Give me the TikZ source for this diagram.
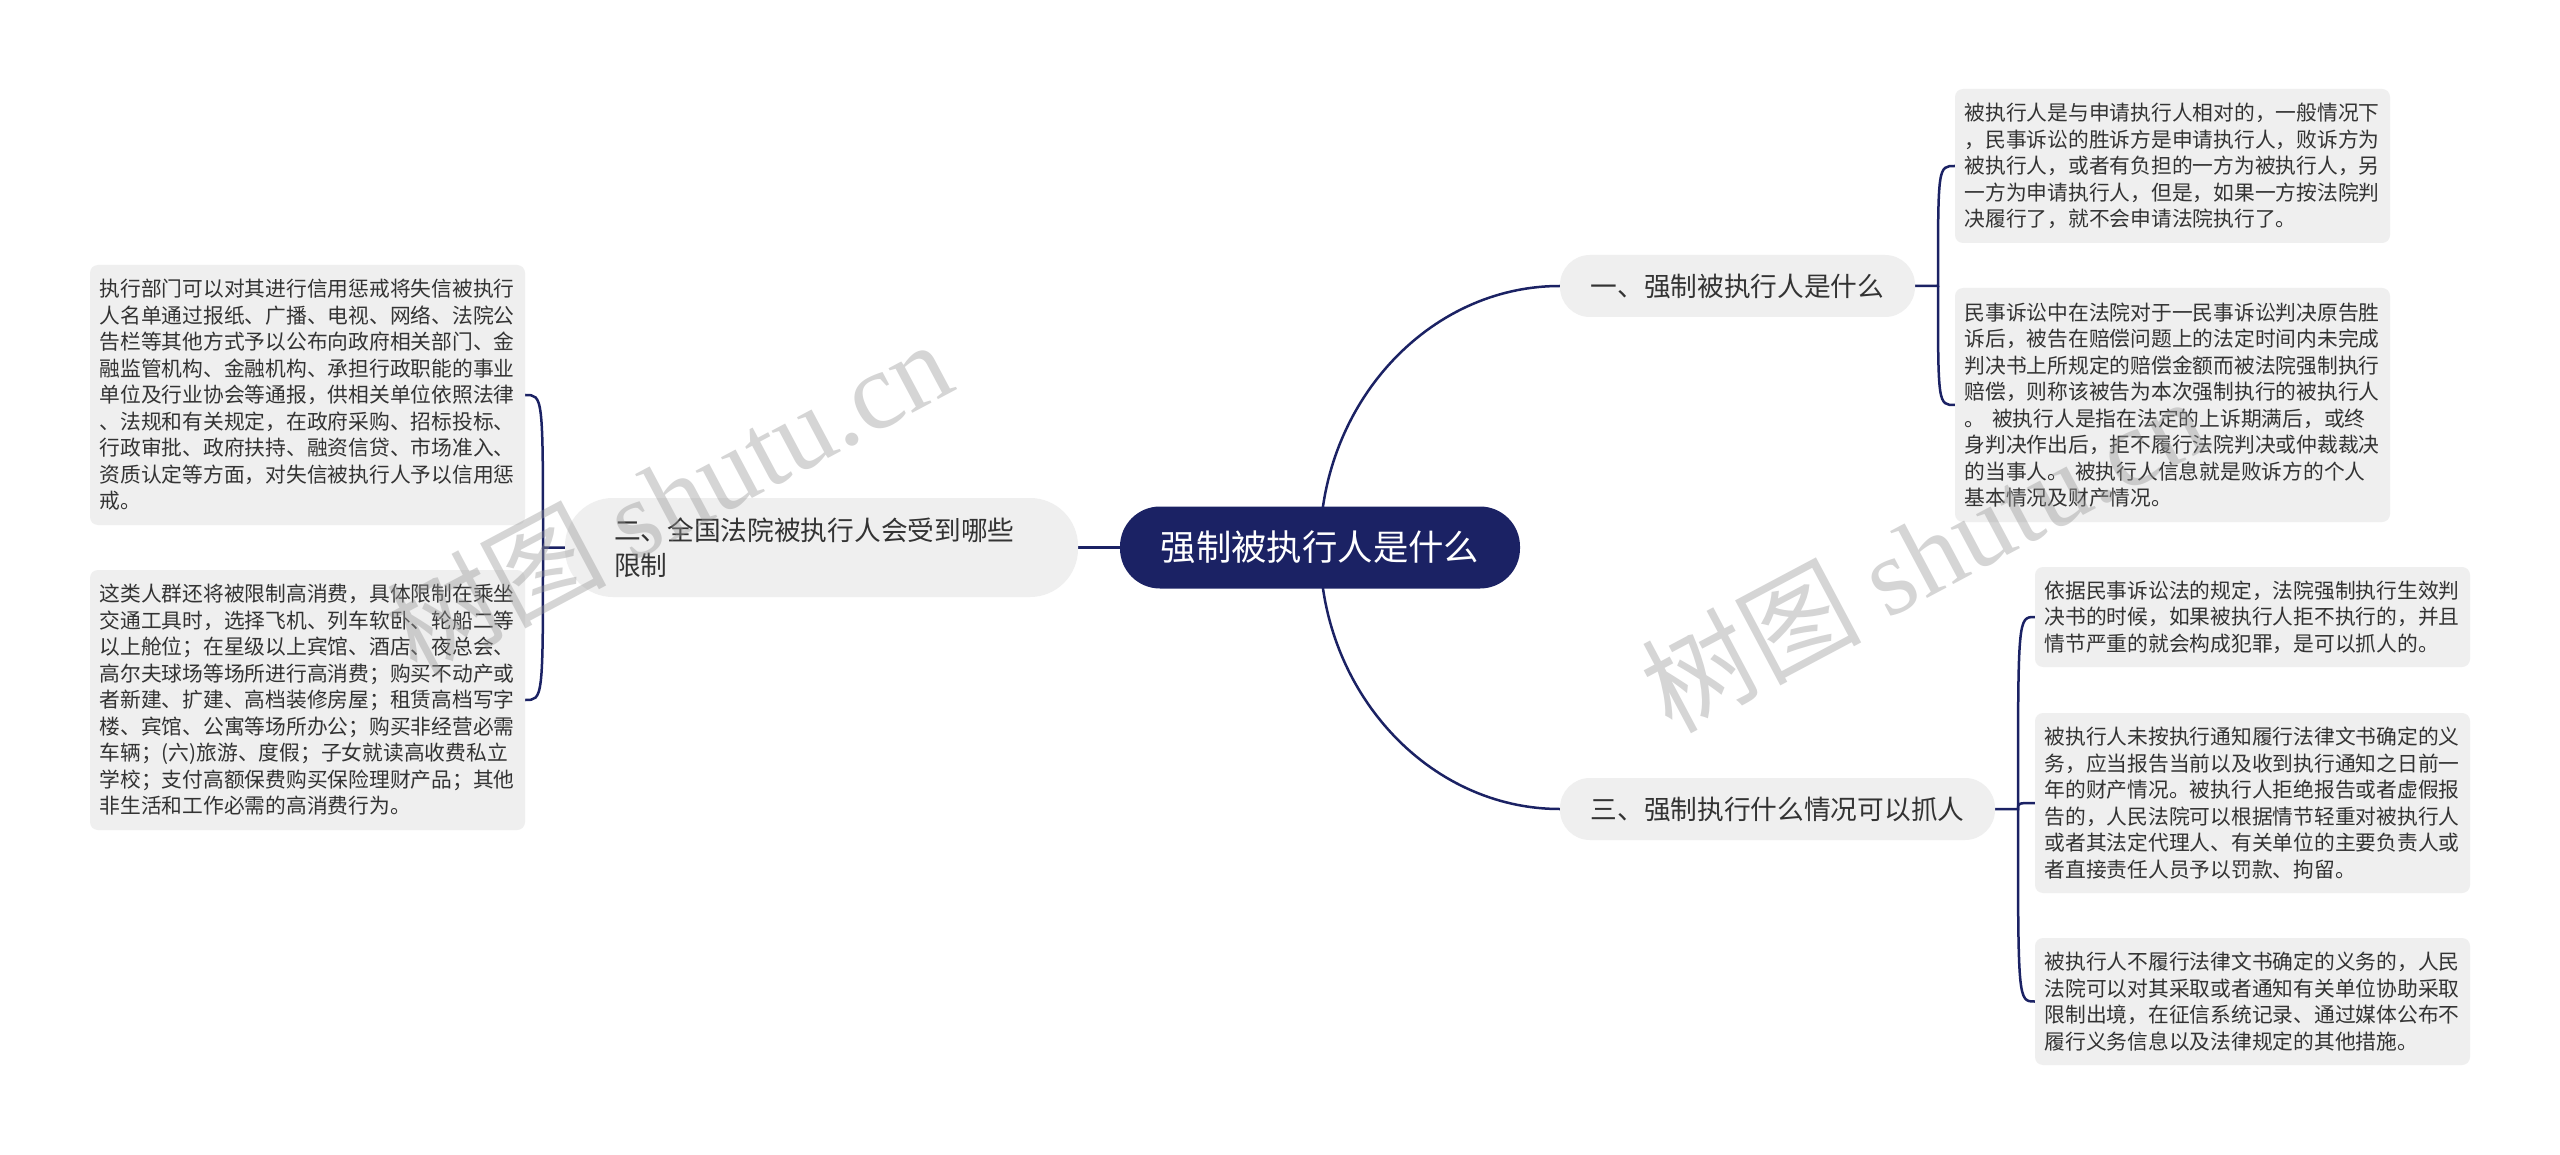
\documentclass[tikz,border=0pt]{standalone}
\usepackage{fontspec}
\setmainfont{Noto Sans CJK SC}
\newfontfamily\wmlatin{Liberation Serif}
\usetikzlibrary{backgrounds}
\definecolor{navy}{HTML}{1B2264}
\definecolor{boxgray}{HTML}{EFEFEF}
\definecolor{txt}{HTML}{333333}
\definecolor{wm}{HTML}{969696}
\begin{document}
\begin{tikzpicture}[x=1pt,y=-1pt,
  leaf/.style={fill=boxgray, rounded corners=8pt, text width=416pt, align=left,
    inner xsep=9.5pt, inner ysep=0pt, text=txt,
    font=\fontsize{20.75pt}{26.5pt}\selectfont},
  topic/.style={fill=boxgray, rounded corners=30pt, minimum height=62pt,
    inner xsep=0pt, inner ysep=0pt, text=txt,
    font=\fontsize{26.7pt}{35pt}\selectfont},
  rootnode/.style={fill=navy, rounded corners=40pt, minimum width=400pt,
    minimum height=82pt, inner sep=0pt, text=white,
    font=\fontsize{35.4pt}{40pt}\selectfont},
  link/.style={draw=navy, line width=2.5pt},
  wmark/.style={text=wm, opacity=0.4, rotate=28, inner sep=0pt,
    font=\fontsize{110pt}{110pt}\selectfont}]
\useasboundingbox (0,0) rectangle (2560,1155);

\node[rootnode] (root) at (1320,547.5) {强制被执行人是什么};

\node[topic, minimum width=355pt] (n1) at (1737.5,286) {一、强制被执行人是什么};
\node[topic, minimum width=435pt] (n3) at (1777.5,809) {三、强制执行什么情况可以抓人};
\node[topic, rounded corners=48pt, minimum width=513pt, minimum height=99pt,
  text width=415pt, align=left, inner xsep=49pt] (n2) at (821.5,547.5)
  {二、全国法院被执行人会受到哪些\\限制};

\node[leaf, minimum height=260pt] (l1) at (307.5,395) {执行部门可以对其进行信用惩戒将失信被执行\\
人名单通过报纸、广播、电视、网络、法院公\\
告栏等其他方式予以公布向政府相关部门、金\\
融监管机构、金融机构、承担行政职能的事业\\
单位及行业协会等通报，供相关单位依照法律\\
、法规和有关规定，在政府采购、招标投标、\\
行政审批、政府扶持、融资信贷、市场准入、\\
资质认定等方面，对失信被执行人予以信用惩\\
戒。};

\node[leaf, minimum height=260pt] (l2) at (307.5,700) {这类人群还将被限制高消费，具体限制在乘坐\\
交通工具时，选择飞机、列车软卧、轮船二等\\
以上舱位；在星级以上宾馆、酒店、夜总会、\\
高尔夫球场等场所进行高消费；购买不动产或\\
者新建、扩建、高档装修房屋；租赁高档写字\\
楼、宾馆、公寓等场所办公；购买非经营必需\\
车辆；(六)旅游、度假；子女就读高收费私立\\
学校；支付高额保费购买保险理财产品；其他\\
非生活和工作必需的高消费行为。};

\node[leaf, minimum height=154pt] (r1) at (2172.5,166) {被执行人是与申请执行人相对的，一般情况下\\
，民事诉讼的胜诉方是申请执行人，败诉方为\\
被执行人，或者有负担的一方为被执行人，另\\
一方为申请执行人，但是，如果一方按法院判\\
决履行了，就不会申请法院执行了。};

\node[leaf, minimum height=234pt] (r2) at (2172.5,405) {民事诉讼中在法院对于一民事诉讼判决原告胜\\
诉后，被告在赔偿问题上的法定时间内未完成\\
判决书上所规定的赔偿金额而被法院强制执行\\
赔偿，则称该被告为本次强制执行的被执行人\\
。 被执行人是指在法定的上诉期满后，或终\\
身判决作出后，拒不履行法院判决或仲裁裁决\\
的当事人。 被执行人信息就是败诉方的个人\\
基本情况及财产情况。};

\node[leaf, minimum height=100pt] (r3) at (2252.5,617) {依据民事诉讼法的规定，法院强制执行生效判\\
决书的时候，如果被执行人拒不执行的，并且\\
情节严重的就会构成犯罪，是可以抓人的。};

\node[leaf, minimum height=180pt] (r4) at (2252.5,803) {被执行人未按执行通知履行法律文书确定的义\\
务，应当报告当前以及收到执行通知之日前一\\
年的财产情况。被执行人拒绝报告或者虚假报\\
告的，人民法院可以根据情节轻重对被执行人\\
或者其法定代理人、有关单位的主要负责人或\\
者直接责任人员予以罚款、拘留。};

\node[leaf, minimum height=127pt] (r5) at (2252.5,1001.5) {被执行人不履行法律文书确定的义务的，人民\\
法院可以对其采取或者通知有关单位协助采取\\
限制出境，在征信系统记录、通过媒体公布不\\
履行义务信息以及法律规定的其他措施。};

\coordinate (b1) at (1938,286);
\coordinate (b2) at (543,547.5);
\coordinate (b3) at (2018,809);

\begin{scope}[on background layer]
\fill[white] (0,0) rectangle (2560,1155);
\draw[link] (root.center) .. controls (1320,404) and (1428,286) .. (n1.west);
\draw[link] (root.center) .. controls (1320,691) and (1428,809) .. (n3.west);
\draw[link] (root.center) -- (n2.east);
\draw[link] (n1.east) -- (b1) .. controls (1938,166) .. (r1.west);
\draw[link] (b1) .. controls (1938,405) .. (r2.west);
\draw[link] (n2.west) -- (b2) .. controls (543,395) .. (l1.east);
\draw[link] (b2) .. controls (543,700) .. (l2.east);
\draw[link] (n3.east) -- (b3) .. controls (2018,617) .. (r3.west);
\draw[link] (b3) .. controls (2018,803) .. (r4.west);
\draw[link] (b3) .. controls (2018,1001.5) .. (r5.west);
\end{scope}

\node[wmark] (wm1) at (668,496) {树图 {\wmlatin shutu.cn}};
\node[wmark] (wm2) at (1923,553) {树图 {\wmlatin shutu.cn}};
\end{tikzpicture}
\end{document}
